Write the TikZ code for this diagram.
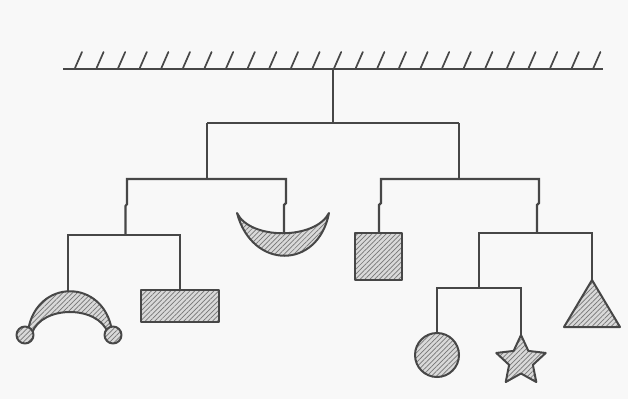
\documentclass[tikz,border=0pt]{standalone}
\usetikzlibrary{patterns.meta}

\definecolor{ink}{HTML}{474747}
\definecolor{shade}{HTML}{D9D9D9}
\definecolor{paper}{HTML}{F8F8F8}

\begin{document}
\begin{tikzpicture}[
    x=1pt, y=-1pt,
    cord/.style={draw=ink, line width=2.2pt, line join=miter},
    hatch/.style={draw=ink, line width=1.7pt, line cap=round},
    piece/.style={draw=ink, line width=2pt, line join=round,
                  preaction={fill=shade},
                  pattern={Lines[angle=45, distance=3.4pt, line width=0.7pt]},
                  pattern color=ink!75}
  ]

  \fill[paper] (0,0) rectangle (628,399);
  \useasboundingbox (0,0) rectangle (628,399);

  % Ceiling
  \coordinate (ceilL) at (63,69);
  \coordinate (ceilR) at (603,69);
  \coordinate (hook) at (333,69);
  \draw[cord, line width=2.6pt] (ceilL) -- (ceilR);
  \foreach \i in {0,...,24}
    \draw[hatch] (75+\i*21.6,68) -- ++(7,-16);

  % Top bar
  \coordinate (top) at (333,123);
  \coordinate (topL) at (207,123);
  \coordinate (topR) at (459,123);
  \draw[cord] (hook) -- (top);
  \draw[cord] (topL) -- (topR);

  % Left branch
  \coordinate (lbar) at (207,179);
  \coordinate (lbarL) at (127,179);
  \coordinate (lbarR) at (286,179);
  \coordinate (llbar) at (125.5,235);
  \coordinate (cres) at (284,233);
  \draw[cord] (topL) -- (lbar);
  \draw[cord] (llbar) -- ++(0,-29) -- ++(1.5,-2) |- (lbarR)
              -- ++(0,24) -- ++(-2,2) -- (cres);

  \coordinate (llbarL) at (68,235);
  \coordinate (llbarR) at (180,235);
  \coordinate (arch) at (68,291);
  \coordinate (block) at (180,290);
  \draw[cord] (arch) -- (llbarL) -- (llbarR) -- (block);

  % Crescent
  \draw[piece] (237,213) .. controls (250,240) and (315,240) .. (329,213)
               .. controls (318,270) and (252,270) .. (237,213) -- cycle;

  % Arch with balls
  \draw[piece] (28,331) .. controls (36,278) and (104,278) .. (112,331)
               -- (108,333) .. controls (98,305) and (42,305) .. (32,333) -- cycle;
  \draw[piece] (25,335) circle[radius=8.5];
  \draw[piece] (113,335) circle[radius=8.5];

  % Block
  \draw[piece] (141,290) rectangle (219,322);

  % Right branch
  \coordinate (rbar) at (459,179);
  \coordinate (rbarL) at (381,179);
  \coordinate (rbarR) at (539,179);
  \coordinate (cube) at (379,233);
  \coordinate (rrbar) at (537,233);
  \draw[cord] (topR) -- (rbar);
  \draw[cord] (cube) -- ++(0,-28) -- ++(2,-2) |- (rbarR)
              -- ++(0,24) -- ++(-2,2) -- (rrbar);

  % Square
  \draw[piece] (355,233) rectangle (402,280);

  \coordinate (rrbarL) at (479,233);
  \coordinate (rrbarR) at (592,233);
  \coordinate (tri) at (592,280);
  \coordinate (sbar) at (479,288);
  \draw[cord] (sbar) -- (rrbarL) -- (rrbarR) -- (tri);

  % Triangle
  \draw[piece] (tri) -- (620,327) -- (564,327) -- cycle;

  \coordinate (sbarL) at (437,288);
  \coordinate (sbarR) at (521,288);
  \coordinate (ball) at (437,333);
  \coordinate (star) at (521,335);
  \draw[cord] (ball) -- (sbarL) -- (sbarR) -- (star);

  % Ball and star
  \draw[piece] (437,355) circle[radius=22];
  \draw[piece, shift={(521,361)}] (-90:26)
    \foreach \k in {1,...,5} { -- (\k*72-126:12.5) -- (\k*72-90:26) } -- cycle;

\end{tikzpicture}
\end{document}
